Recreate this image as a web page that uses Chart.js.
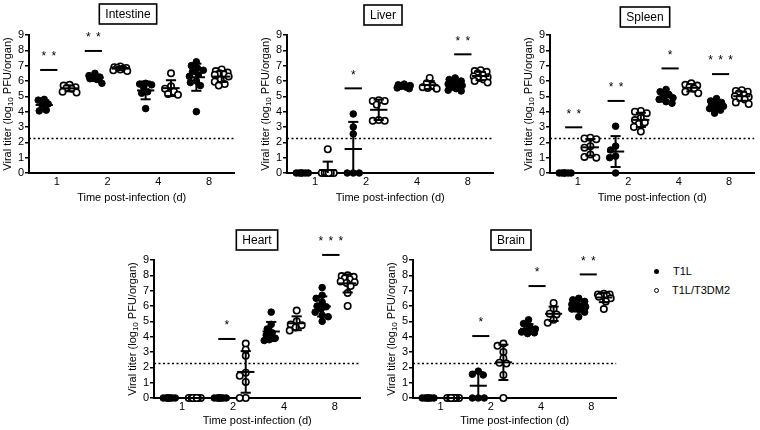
<!DOCTYPE html>
<html>
<head>
<meta charset="utf-8">
<script src="https://cdn.jsdelivr.net/npm/chart.js@4.4.0/dist/chart.umd.min.js"></script>
<style>
  html, body { margin: 0; padding: 0; background: #fff; }
  #wrap { position: relative; width: 760px; height: 430px; overflow: hidden; font-family: "Liberation Sans", Arial, sans-serif; color: #000; }
  #wrap canvas { position: absolute; }
  .key { position: absolute; left: 654px; font-size: 11px; line-height: 13px; white-space: nowrap; }
  .dot { display: inline-block; width: 5px; height: 5px; border-radius: 50%; background: #000; margin-right: 14px; vertical-align: 1px; }
  .dot.open { width: 3px; height: 3px; background: #fff; border: 1.5px solid #000; margin-right: 13px; }
</style>
</head>
<body>
<div id="wrap">
  <div class="key" style="top:265px"><span class="dot"></span>T1L</div>
  <div class="key" style="top:284px"><span class="dot open"></span>T1L/T3DM2</div>
</div>
<script>
// categories (days post-infection) and groups
const days = ["1", "2", "4", "8"];
const groups = ["T1L", "T1L/T3DM2"];
const detectionLimit = 2.25;

// log10 PFU/organ, one list per day
const intestineT1L = [
  [4.8, 4.75, 4.5, 4.4, 4.1, 4.05],
  [6.5, 6.35, 6.25, 6.2, 6.15, 6.1, 5.85],
  [5.85, 5.8, 5.75, 5.6, 5.3, 5.2, 4.2],
  [7.25, 7.0, 6.85, 6.7, 6.6, 6.4, 6.3, 6.0, 5.9, 5.7, 4.0]
];
const intestineMut = [
  [5.75, 5.7, 5.6, 5.55, 5.5, 5.3, 5.25],
  [6.95, 6.9, 6.85, 6.85, 6.8, 6.75, 6.7, 6.65],
  [6.5, 5.65, 5.5, 5.3, 5.15, 5.1],
  [6.75, 6.65, 6.55, 6.5, 6.45, 6.4, 6.3, 6.1, 5.95, 5.8, 5.7]
];
const liverT1L = [
  [0, 0, 0, 0, 0, 0],
  [3.85, 3.0, 2.55, 0, 0, 0],
  [5.8, 5.75, 5.7, 5.65, 5.6, 5.55, 5.5],
  [6.2, 6.1, 6.0, 5.9, 5.8, 5.75, 5.7, 5.6, 5.5, 5.4, 5.35]
];
const liverMut = [
  [1.55, 0, 0, 0, 0, 0, 0, 0],
  [4.75, 4.7, 4.7, 4.45, 3.45, 3.4, 3.4],
  [6.2, 5.85, 5.7, 5.6, 5.55, 5.5],
  [6.7, 6.65, 6.6, 6.5, 6.4, 6.3, 6.25, 6.2, 6.1, 6.0, 5.9]
];
const spleenT1L = [
  [0, 0, 0, 0, 0, 0],
  [3.05, 1.75, 1.5, 1.1, 1.0, 0],
  [5.45, 5.3, 5.1, 5.0, 4.9, 4.8, 4.65, 4.55],
  [4.85, 4.7, 4.6, 4.5, 4.45, 4.4, 4.35, 4.3, 4.2, 4.1, 3.9]
];
const spleenMut = [
  [2.3, 2.25, 2.2, 1.75, 1.65, 1.2, 1.05, 1.0],
  [4.05, 4.0, 3.9, 3.6, 3.45, 3.3, 3.2, 3.0, 2.7],
  [5.85, 5.75, 5.7, 5.6, 5.5, 5.3, 5.2],
  [5.4, 5.35, 5.3, 5.2, 5.1, 5.0, 4.95, 4.9, 4.8, 4.6, 4.5]
];
const heartT1L = [
  [0, 0, 0, 0, 0, 0, 0, 0],
  [0, 0, 0, 0, 0, 0, 0, 0],
  [5.6, 4.8, 4.5, 4.25, 4.1, 3.9, 3.8, 3.75],
  [7.2, 6.7, 6.5, 6.25, 6.0, 5.95, 5.8, 5.6, 5.4, 5.3, 5.0]
];
const heartMut = [
  [0, 0, 0, 0, 0, 0, 0, 0, 0],
  [3.55, 3.15, 2.75, 1.65, 1.45, 1.05, 0, 0],
  [5.7, 5.0, 4.8, 4.75, 4.6, 4.4],
  [8.0, 7.95, 7.9, 7.8, 7.75, 7.6, 7.55, 7.5, 7.3, 6.85, 6.0]
];
const brainT1L = [
  [0, 0, 0, 0, 0, 0, 0],
  [1.75, 1.55, 1.5, 0, 0, 0],
  [5.1, 4.85, 4.7, 4.5, 4.4, 4.35, 4.3, 4.25, 4.2],
  [6.5, 6.4, 6.3, 6.2, 6.1, 6.0, 5.95, 5.9, 5.8, 5.75, 5.6, 5.3]
];
const brainMut = [
  [0, 0, 0, 0, 0, 0, 0, 0],
  [3.55, 3.4, 3.0, 2.6, 2.3, 2.25, 1.5, 0],
  [6.2, 5.8, 5.5, 5.45, 5.1, 4.9],
  [6.8, 6.75, 6.75, 6.7, 6.7, 6.65, 6.6, 6.5, 6.3, 5.8]
];

// significance marks: [day index, shift from category, bar level, number of stars]
const intestineSig = [[1, -0.16, 6.72, 2], [2, -0.28, 7.96, 2]];
const liverSig = [[2, -0.25, 5.52, 1], [4, -0.1, 7.74, 2]];
const spleenSig = [[1, -0.08, 2.98, 2], [2, -0.24, 4.7, 2], [3, -0.17, 6.82, 1], [4, -0.17, 6.45, 3]];
const heartSig = [[2, -0.12, 3.85, 1], [4, -0.08, 9.33, 3]];
const brainSig = [[2, -0.2, 4.04, 1], [3, -0.08, 7.3, 1], [4, -0.06, 8.06, 2]];

const FONT = '"Liberation Sans", Arial, sans-serif';
const SIDE = 0.25;      // group offset from category centre
const X_MIN = 0.45, X_MAX = 4.5;
const PX_X = 51, PX_Y = 15.3;   // approx pixels per unit, used only to spread dots

const panels = [
  { name: "Intestine", t1l: intestineT1L, mut: intestineMut, sig: intestineSig,
    canvas: [0, 0, 240, 215], plot: [29, 236, 35, 173], titleAt: [128, 14], xTitlePad: 10.4 },
  { name: "Liver", t1l: liverT1L, mut: liverMut, sig: liverSig,
    canvas: [258, 0, 241, 215], plot: [287, 495, 35, 173], titleAt: [383, 15], xTitlePad: 10.4 },
  { name: "Spleen", t1l: spleenT1L, mut: spleenMut, sig: spleenSig,
    canvas: [521, 0, 239, 215], plot: [550, 756, 35, 173], titleAt: [645, 17], xTitlePad: 10.4 },
  { name: "Heart", t1l: heartT1L, mut: heartMut, sig: heartSig,
    canvas: [125, 215, 241, 215], plot: [154, 362, 260, 398], titleAt: [257, 240], xTitlePad: 2.4 },
  { name: "Brain", t1l: brainT1L, mut: brainMut, sig: brainSig,
    canvas: [384, 215, 238, 215], plot: [413, 618, 260, 398], titleAt: [511, 240], xTitlePad: 2.4 }
];

function mean(a) { return a.reduce((s, v) => s + v, 0) / a.length; }
function sd(a) {
  const m = mean(a);
  return Math.sqrt(a.reduce((s, v) => s + (v - m) * (v - m), 0) / (a.length - 1));
}

// small beeswarm: each dot goes as near the centre as it can without overlapping
function spread(values, centre) {
  const v = values.slice().sort((a, b) => b - a);
  const cands = [0];
  for (let k = 1; k <= 7; k++) cands.push(-k, k);
  const placed = [];
  v.forEach(val => {
    let best = 0, bestD = -1;
    for (const c of cands) {
      let dmin = Infinity;
      placed.forEach(q => {
        dmin = Math.min(dmin, Math.hypot(c - q.px, (val - q.y) * PX_Y));
      });
      if (dmin >= 6) { best = c; break; }
      if (dmin > bestD) { bestD = dmin; best = c; }
    }
    placed.push({ px: best, y: val });
  });
  return placed.map(q => ({ x: centre + q.px / PX_X, y: q.y }));
}

function points(sets, off) {
  return sets.flatMap((vals, i) => spread(vals, i + 1 + off));
}

function titerPlugin(p) {
  return {
    id: 'titer',
    afterDatasetsDraw(chart) {
      const ctx = chart.ctx, xs = chart.scales.x, ys = chart.scales.y;
      const ux = xs.getPixelForValue(2) - xs.getPixelForValue(1);
      const seg = (x1, y1, x2, y2) => { ctx.beginPath(); ctx.moveTo(x1, y1); ctx.lineTo(x2, y2); ctx.stroke(); };
      ctx.save();
      ctx.strokeStyle = '#000';
      ctx.fillStyle = '#000';
      ctx.lineWidth = 2;
      // mean +/- SD
      [[p.t1l, -SIDE], [p.mut, SIDE]].forEach(([sets, off]) => {
        sets.forEach((vals, i) => {
          const cx = xs.getPixelForValue(i + 1 + off);
          const m = mean(vals), s = sd(vals);
          const mw = 0.17 * ux, cw = 0.1 * ux;
          const ym = ys.getPixelForValue(m);
          seg(cx - mw, ym, cx + mw, ym);
          if (s > 0) {
            const hi = ys.getPixelForValue(m + s);
            const lo = ys.getPixelForValue(Math.max(0, m - s));
            seg(cx, lo, cx, hi);
            seg(cx - cw, hi, cx + cw, hi);
            if (m - s > 0) seg(cx - cw, lo, cx + cw, lo);
          }
        });
      });
      // significance bars and stars
      ctx.font = '12px ' + FONT;
      ctx.textAlign = 'center';
      ctx.textBaseline = 'middle';
      p.sig.forEach(([day, dx, level, n]) => {
        const cx = xs.getPixelForValue(day + dx);
        const yb = ys.getPixelForValue(level);
        const hw = 0.17 * ux;
        seg(cx - hw, yb, cx + hw, yb);
        for (let k = 0; k < n; k++) {
          ctx.fillText('*', cx + (k - (n - 1) / 2) * 10, yb - 13);
        }
      });
      ctx.restore();
    },
    afterDraw(chart) {
      const ctx = chart.ctx, a = chart.chartArea;
      ctx.save();
      ctx.fillStyle = '#000';
      // y axis title with subscript
      ctx.translate(a.left - 21, (a.top + a.bottom) / 2);
      ctx.rotate(-Math.PI / 2);
      ctx.textBaseline = 'middle';
      ctx.textAlign = 'left';
      const f1 = '11px ' + FONT, f2 = '8px ' + FONT;
      const parts = [['Viral titer (log', f1, 0], ['10', f2, 3], [' PFU/organ)', f1, 0]];
      let total = 0;
      parts.forEach(pt => { ctx.font = pt[1]; total += ctx.measureText(pt[0]).width; });
      let x = -total / 2;
      parts.forEach(pt => { ctx.font = pt[1]; ctx.fillText(pt[0], x, pt[2]); x += ctx.measureText(pt[0]).width; });
      ctx.restore();
      // boxed panel title
      ctx.save();
      const tx = p.titleAt[0] - p.canvas[0], ty = p.titleAt[1] - p.canvas[1];
      ctx.font = '12px ' + FONT;
      ctx.textAlign = 'center';
      ctx.textBaseline = 'middle';
      ctx.fillStyle = '#000';
      const w = ctx.measureText(p.name).width + 12;
      ctx.lineWidth = 1.6;
      ctx.strokeStyle = '#000';
      ctx.strokeRect(tx - w / 2, ty - 10, w, 20);
      ctx.fillText(p.name, tx, ty + 0.5);
      ctx.restore();
    }
  };
}

const wrap = document.getElementById('wrap');
panels.forEach(p => {
  const [cl, ct, cw, ch] = p.canvas;
  const [pl, pr, pt, pb] = p.plot;
  const cv = document.createElement('canvas');
  cv.width = cw; cv.height = ch;
  cv.style.left = cl + 'px'; cv.style.top = ct + 'px';
  cv.style.width = cw + 'px'; cv.style.height = ch + 'px';
  wrap.appendChild(cv);

  new Chart(cv.getContext('2d'), {
    type: 'scatter',
    data: {
      datasets: [
        {
          type: 'line',
          label: 'limit',
          data: [{ x: X_MIN, y: detectionLimit }, { x: X_MAX, y: detectionLimit }],
          borderColor: '#000',
          borderWidth: 1.5,
          borderDash: [2, 2.5],
          pointRadius: 0,
          order: 3
        },
        {
          label: groups[0],
          data: points(p.t1l, -SIDE),
          pointRadius: 3.3,
          pointBackgroundColor: '#000',
          pointBorderColor: '#000',
          pointBorderWidth: 1,
          clip: false,
          order: 2
        },
        {
          label: groups[1],
          data: points(p.mut, SIDE),
          pointRadius: 3.2,
          pointBackgroundColor: '#fff',
          pointBorderColor: '#000',
          pointBorderWidth: 1.6,
          clip: false,
          order: 1
        }
      ]
    },
    options: {
      responsive: false,
      animation: false,
      devicePixelRatio: 1,
      layout: { padding: { top: pt - ct, right: cl + cw - pr, left: 0, bottom: 0 } },
      plugins: { legend: { display: false }, tooltip: { enabled: false } },
      scales: {
        x: {
          type: 'linear',
          min: X_MIN,
          max: X_MAX,
          afterFit: s => { s.height = ct + ch - pb; },
          afterBuildTicks: s => { s.ticks = days.map((d, i) => ({ value: i + 1 })); },
          ticks: {
            callback: v => days[v - 1],
            autoSkip: false,
            maxRotation: 0,
            padding: 2,
            color: '#000',
            font: { family: FONT, size: 11 }
          },
          grid: { display: false, drawTicks: false },
          border: { color: '#000', width: 2 },
          title: {
            display: true,
            text: 'Time post-infection (d)',
            color: '#000',
            font: { family: FONT, size: 11 },
            padding: { top: 0, bottom: p.xTitlePad }
          }
        },
        y: {
          min: 0,
          max: 9,
          afterFit: s => { s.width = pl - cl; },
          ticks: { stepSize: 1, autoSkip: false, padding: 1, color: '#000', font: { family: FONT, size: 11 } },
          grid: { drawOnChartArea: false, drawTicks: true, tickLength: 4, color: '#000', lineWidth: 1.5 },
          border: { color: '#000', width: 2 }
        }
      }
    },
    plugins: [titerPlugin(p)]
  });
});
</script>
</body>
</html>
